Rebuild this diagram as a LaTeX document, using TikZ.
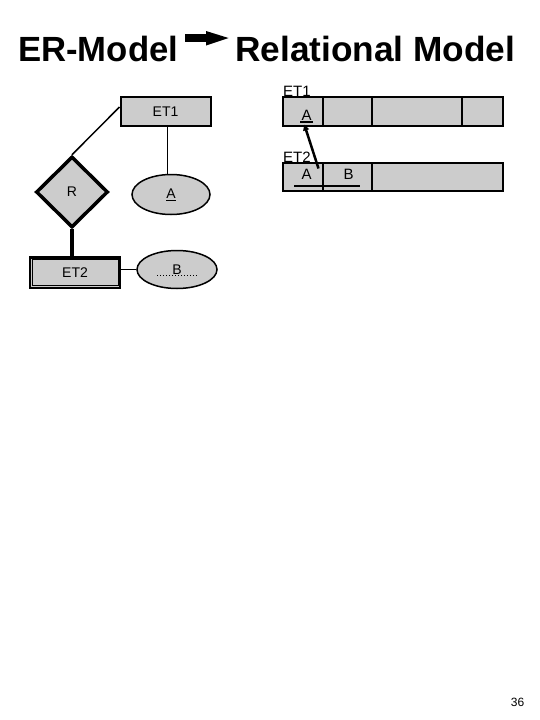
\documentclass[tikz,border=0pt]{standalone}
\usepackage{graphicx}
\usepackage{fontspec}
\setmainfont{Liberation Sans}
\usetikzlibrary{shapes.geometric,calc,arrows.meta}
\definecolor{boxgray}{RGB}{204,204,204}
\begin{document}
\begin{tikzpicture}[x=1pt,y=-1pt,
  every node/.style={font=\fontsize{14}{16}\selectfont},
  title/.style={anchor=base west, inner sep=0pt, font=\bfseries\fontsize{35}{40}\selectfont},
  entity/.style={draw, fill=boxgray, line width=2pt, minimum width=90pt, minimum height=29pt, inner sep=0pt},
  attr/.style={ellipse, draw, fill=boxgray, line width=1.5pt, inner sep=0pt},
  cell/.style={draw, fill=boxgray, line width=2pt, inner sep=0pt},
  tabtext/.style={inner sep=0pt, font=\fontsize{15}{17}\selectfont},
  conn/.style={line width=1.5pt}
]
\useasboundingbox (0,0) rectangle (540,720);
\fill[white] (0,0) rectangle (540,720);

% title
\node[title] (t1) at (18,61) {\resizebox{160pt}{\height}{ER-Model}};
\node[title] (t2) at (235,61) {\resizebox{280pt}{\height}{Relational Model}};
\fill (185,34) rectangle (207,41.5);
\fill (206,31) -- (228.5,38) -- (206,45.5) -- cycle;

% ER model
\node[entity] (ET1) at (165.5,111.5) {ET1};
\node[draw, fill=boxgray, diamond, line width=3.5pt, minimum width=72pt, minimum height=71pt, inner sep=0pt] (R) at (72,192) {R};
\node[attr, minimum width=78pt, minimum height=40pt] (A) at (171,194.5) {\underline{A}};
\node[entity, line width=2.5pt, minimum height=30.5pt] (ET2) at (75,272.5) {ET2};
\draw[line width=0.7pt] ($(ET2.north west)+(3.2,3.2)$) rectangle ($(ET2.south east)+(-3.2,-3.2)$);
\node[attr, minimum width=80pt, minimum height=38pt] (B) at (177,269.5) {B};
\draw[dotted, line width=1pt] ($(B.center)+(-20,5.5)$) -- ($(B.center)+(21,5.5)$);

\coordinate (et1a) at ($(ET1.south)+(2,0)$);
\draw[conn] ($(ET1.west)+(0,-4.5)$) -- (R.north);
\draw[conn] (et1a) -- (et1a |- A.north);
\draw[line width=4pt] (R.south) -- (R.south |- ET2.north);
\draw[conn] (B.west -| ET2.east) -- (B.west);

% relational model
\node[tabtext, anchor=base west] (l1) at (283,96.5) {ET1};
\node[cell, minimum width=40pt, minimum height=29pt] (c11) at (303,111.5) {};
\node[cell, minimum width=49pt, minimum height=29pt] (c12) at (347.5,111.5) {};
\node[cell, minimum width=90pt, minimum height=29pt] (c13) at (417,111.5) {};
\node[cell, minimum width=41pt, minimum height=29pt] (c14) at (482.5,111.5) {};
\node[tabtext] (a1) at (306.5,115) {A};
\draw[line width=1.8pt] (300,122.3) -- (312.5,122.3);

\node[tabtext, anchor=base west] (l2) at (283,162.5) {ET2};
\node[cell, minimum width=40pt, minimum height=28pt] (c21) at (303,177) {};
\node[cell, minimum width=49pt, minimum height=28pt] (c22) at (347.5,177) {};
\node[cell, minimum width=131pt, minimum height=28pt] (c23) at (437.5,177) {};
\node[tabtext] (a2) at (306.5,174.5) {A};
\node[tabtext] (b2) at (348.5,174.5) {B};
\draw[line width=1.3pt] (294,186) -- (360,186);

\coordinate (fk) at (318.5,168.5);
\coordinate (pk) at (304.3,124.5);
\draw[line width=2.5pt, -{Triangle[length=6pt,width=6pt]}] (fk) -- (pk);

\node[font=\fontsize{12}{14}\selectfont] (pg) at (517.5,702.5) {36};
\end{tikzpicture}
\end{document}
